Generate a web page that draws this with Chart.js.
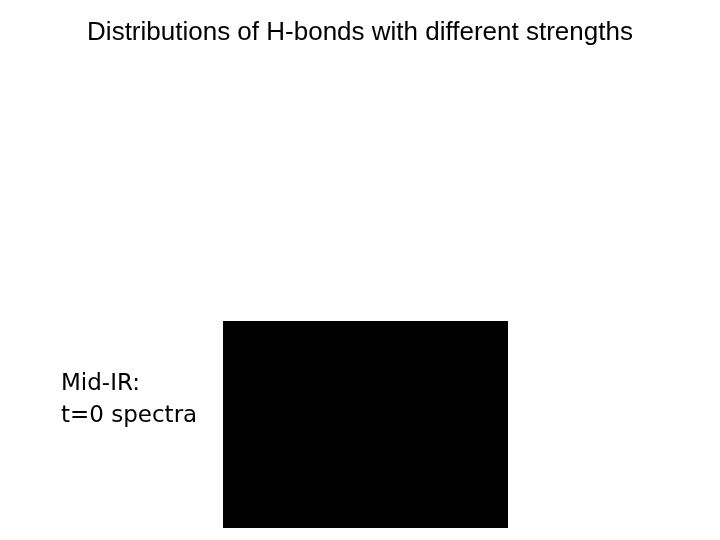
<!DOCTYPE html>
<html>
<head>
<meta charset="utf-8">
<script src="https://cdn.jsdelivr.net/npm/chart.js@4.4.0/dist/chart.umd.min.js"></script>
<style>
  html, body { margin: 0; padding: 0; background: #fff; }
  #wrap { position: relative; width: 720px; height: 540px; overflow: hidden; }
  #chart { position: absolute; left: 0; top: 0; }
  #title {
    position: absolute; left: 0; top: 18px; width: 720px;
    text-align: center; font-family: "Liberation Sans", Arial, sans-serif;
    font-size: 26px; line-height: 26px; color: #000; white-space: nowrap;
  }
  #side {
    position: absolute; left: 61px; top: 366px;
    font-family: "DejaVu Sans", Verdana, sans-serif;
    font-size: 23px; line-height: 32px; color: #000; white-space: nowrap;
  }
</style>
</head>
<body>
<div id="wrap">
  <canvas id="chart" width="720" height="540"></canvas>
  <div id="title">Distributions of H-bonds with different strengths</div>
  <div id="side">Mid-IR:<br>t=0 spectra</div>
</div>
<script>
'use strict';

// the picture only shows one filled black panel (the spectrum image)
const categories = ['t=0'];
const panelValues = [1];
const yTicks = [0, 1];

const canvasEl = document.getElementById('chart');

function drawChart() {
  return new Chart(canvasEl, {
    type: 'bar',
    data: {
      labels: categories,
      datasets: [{
        label: 'Mid-IR t=0',
        data: panelValues,
        backgroundColor: '#000000',
        borderWidth: 0,
        barPercentage: 1,
        categoryPercentage: 1
      }]
    },
    options: {
      responsive: false,
      animation: false,
      layout: {
        padding: { left: 223, right: 212, top: 321, bottom: 12 }
      },
      plugins: {
        legend: { display: false },
        tooltip: { enabled: false },
        title: { display: false }
      },
      scales: {
        x: { display: false, offset: true },
        y: {
          display: false,
          min: yTicks[0],
          max: yTicks[yTicks.length - 1]
        }
      }
    }
  });
}

let chartObj = drawChart();
</script>
</body>
</html>
